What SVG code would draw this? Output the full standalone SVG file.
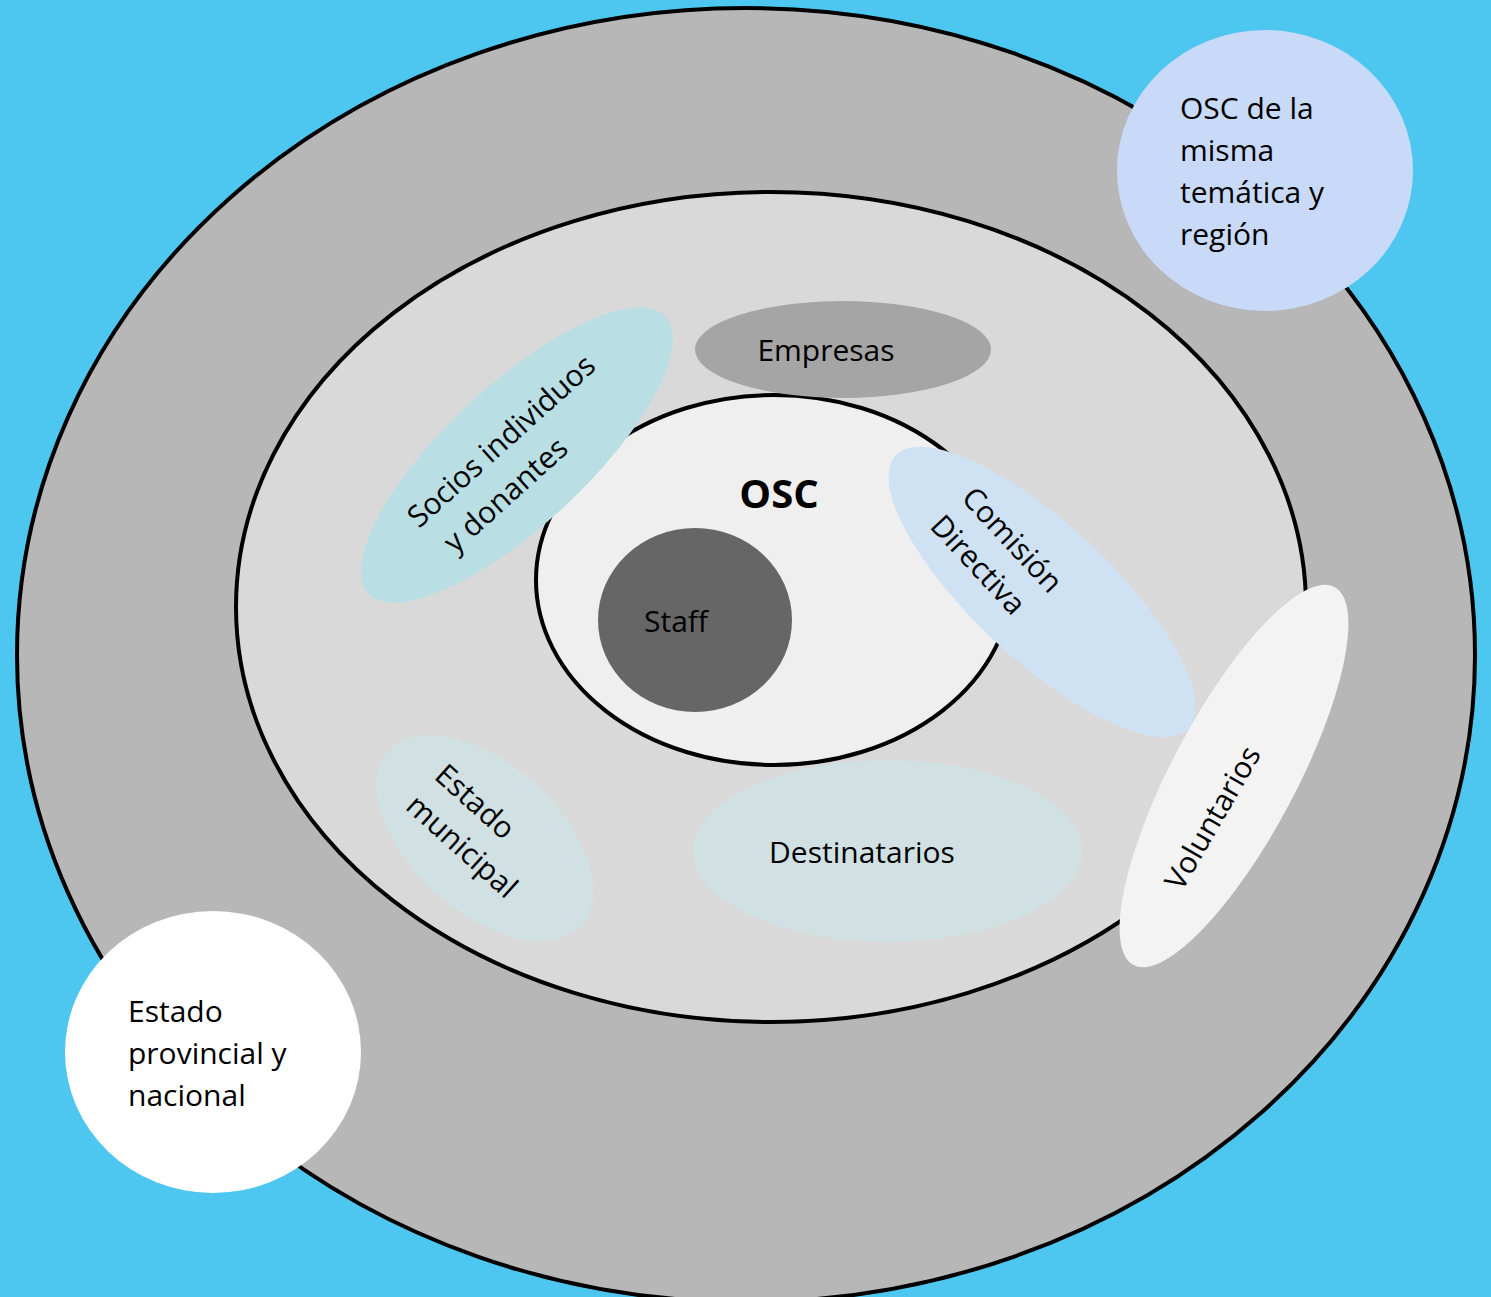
<svg xmlns="http://www.w3.org/2000/svg" width="1491" height="1297" viewBox="0 0 1491 1297">
<style>
.t{font-family:"Open Sans","Noto Sans",sans-serif;font-size:30px;fill:#000}
.b{font-size:40px;font-weight:bold}
.ring{stroke:#000;stroke-width:4}
</style>
<rect x="0" y="0" width="1491" height="1297" fill="#4dc7ef"/>
<g id="outer"><ellipse class="ring" cx="746" cy="655" rx="729" ry="647" fill="#b7b7b7"/></g>
<g id="middle"><ellipse class="ring" cx="771" cy="607" rx="535" ry="415" fill="#d9d9d9"/></g>
<g id="osc">
<ellipse class="ring" cx="774" cy="580" rx="238" ry="185" fill="#efefef"/>
<text class="t b" x="779" y="508" text-anchor="middle">OSC</text>
</g>
<g id="staff">
<ellipse cx="695" cy="620" rx="97" ry="92" fill="#666666"/>
<text class="t" x="644" y="632">Staff</text>
</g>
<g id="empresas">
<ellipse cx="843" cy="349.5" rx="148" ry="48.5" fill="#a5a5a5"/>
<text class="t" x="826" y="361" text-anchor="middle">Empresas</text>
</g>
<g id="socios">
<ellipse cx="517" cy="455" rx="203" ry="70" transform="rotate(-43 517 455)" fill="#b9dfe4"/>
<g transform="translate(410,537) rotate(-42)">
<text class="t" x="12" y="0">Socios individuos</text>
<text class="t" x="22" y="43">y donantes</text>
</g>
</g>
<g id="voluntarios">
<ellipse cx="1234" cy="776" rx="214" ry="62" transform="rotate(-62 1234 776)" fill="#f3f3f3"/>
<text class="t" x="0" y="10" text-anchor="middle" transform="translate(1213,818) rotate(-60)">Voluntarios</text>
</g>
<g id="comision">
<ellipse cx="1042" cy="592" rx="200" ry="68" transform="rotate(43 1042 592)" fill="#cfe2f3"/>
<g transform="translate(1012,540) rotate(47)">
<text class="t" x="0" y="10" text-anchor="middle">Comisión</text>
<text class="t" x="-5" y="52" text-anchor="middle">Directiva</text>
</g>
</g>
<g id="estado-municipal">
<ellipse cx="485" cy="838" rx="130" ry="74" transform="rotate(42 485 838)" fill="#d0e0e3"/>
<g transform="translate(475,802) rotate(42)">
<text class="t" x="0" y="10" text-anchor="middle">Estado</text>
<text class="t" x="20" y="52" text-anchor="middle">municipal</text>
</g>
</g>
<g id="destinatarios">
<ellipse cx="887.5" cy="851" rx="194.5" ry="91" fill="#d0e0e3"/>
<text class="t" x="862" y="863" text-anchor="middle">Destinatarios</text>
</g>
<g id="osc-misma">
<ellipse cx="1265" cy="170.5" rx="148" ry="140.5" fill="#c9daf8"/>
<text class="t" x="1180" y="119">OSC de la</text>
<text class="t" x="1180" y="161">misma</text>
<text class="t" x="1180" y="203">temática y</text>
<text class="t" x="1180" y="245">región</text>
</g>
<g id="estado-provincial">
<ellipse cx="213" cy="1052" rx="148" ry="141" fill="#ffffff"/>
<text class="t" x="128" y="1022">Estado</text>
<text class="t" x="128" y="1064">provincial y</text>
<text class="t" x="128" y="1106">nacional</text>
</g>
<g id="connectors"></g>
</svg>
